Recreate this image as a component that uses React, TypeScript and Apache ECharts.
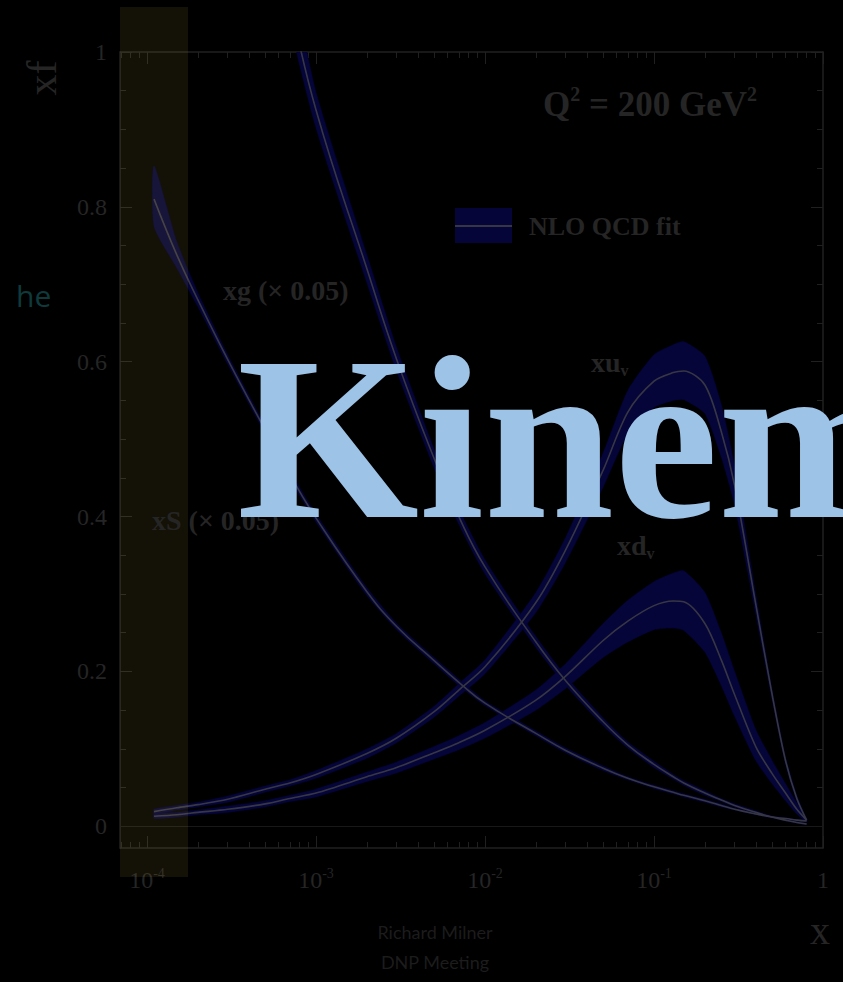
import { useEffect, useRef } from "react";
import * as echarts from "echarts";

// Sampled momentum fractions x (log axis drawn as log10 x)
const X_POINTS = [
  1.1e-4, 1.5e-4, 2e-4, 3e-4, 5e-4, 7e-4, 1e-3, 2e-3, 3e-3, 5e-3, 7e-3, 0.01, 0.02, 0.03,
  0.05, 0.07, 0.1, 0.13, 0.15, 0.2, 0.25, 0.3, 0.4, 0.5, 0.6, 0.7, 0.8,
];

// Sea quarks xS (x 0.05): central value and error band
const XS_CENTER = [0.81, 0.738, 0.68, 0.603, 0.512, 0.454, 0.398, 0.303, 0.258, 0.214, 0.186, 0.159, 0.12, 0.098, 0.075, 0.062, 0.051, 0.044, 0.04, 0.033, 0.027, 0.022, 0.016, 0.012, 0.01, 0.008, 0.007];
const XS_UPPER = [0.853, 0.755, 0.689, 0.609, 0.517, 0.459, 0.403, 0.308, 0.262, 0.218, 0.19, 0.162, 0.123, 0.101, 0.078, 0.064, 0.053, 0.046, 0.042, 0.035, 0.029, 0.023, 0.017, 0.013, 0.011, 0.009, 0.008];
const XS_LOWER = [0.775, 0.721, 0.671, 0.597, 0.507, 0.449, 0.393, 0.298, 0.254, 0.21, 0.182, 0.156, 0.117, 0.095, 0.072, 0.06, 0.049, 0.042, 0.038, 0.031, 0.025, 0.021, 0.015, 0.011, 0.009, 0.007, 0.006];

// Gluon xg (x 0.05): leaves the frame at small x
const XG_CENTER = [null, null, null, null, null, 1.07, 0.925, 0.72, 0.603, 0.475, 0.4, 0.335, 0.238, 0.188, 0.135, 0.105, 0.08, 0.064, 0.056, 0.043, 0.034, 0.027, 0.018, 0.012, 0.008, 0.005, 0.003];
const XG_UPPER = [null, null, null, null, null, 1.1, 0.948, 0.738, 0.618, 0.487, 0.41, 0.344, 0.245, 0.194, 0.14, 0.109, 0.084, 0.067, 0.059, 0.046, 0.036, 0.029, 0.02, 0.013, 0.009, 0.006, 0.004];
const XG_LOWER = [null, null, null, null, null, 1.04, 0.902, 0.702, 0.588, 0.463, 0.39, 0.326, 0.231, 0.182, 0.13, 0.101, 0.076, 0.061, 0.053, 0.04, 0.032, 0.025, 0.016, 0.011, 0.007, 0.004, 0.002];

// Valence up quark xu_v
const XUV_CENTER = [0.019, 0.024, 0.028, 0.035, 0.048, 0.056, 0.067, 0.094, 0.114, 0.148, 0.176, 0.206, 0.289, 0.357, 0.46, 0.535, 0.575, 0.586, 0.588, 0.57, 0.51, 0.44, 0.287, 0.17, 0.085, 0.036, 0.008];
const XUV_UPPER = [0.022, 0.027, 0.031, 0.039, 0.052, 0.06, 0.072, 0.1, 0.12, 0.155, 0.184, 0.215, 0.302, 0.373, 0.482, 0.563, 0.609, 0.622, 0.626, 0.607, 0.545, 0.465, 0.3, 0.177, 0.09, 0.04, 0.009];
const XUV_LOWER = [0.016, 0.021, 0.025, 0.031, 0.044, 0.052, 0.062, 0.088, 0.108, 0.141, 0.168, 0.197, 0.276, 0.341, 0.438, 0.507, 0.541, 0.55, 0.551, 0.533, 0.477, 0.415, 0.274, 0.163, 0.08, 0.032, 0.007];

// Valence down quark xd_v
const XDV_CENTER = [0.013, 0.015, 0.018, 0.022, 0.029, 0.036, 0.043, 0.064, 0.076, 0.095, 0.108, 0.124, 0.163, 0.194, 0.24, 0.265, 0.285, 0.291, 0.29, 0.262, 0.215, 0.17, 0.103, 0.068, 0.043, 0.022, 0.008];
const XDV_UPPER = [0.016, 0.018, 0.021, 0.026, 0.033, 0.04, 0.048, 0.07, 0.083, 0.103, 0.117, 0.134, 0.176, 0.21, 0.262, 0.292, 0.316, 0.327, 0.33, 0.302, 0.25, 0.2, 0.125, 0.085, 0.055, 0.03, 0.01];
const XDV_LOWER = [0.01, 0.012, 0.015, 0.018, 0.025, 0.032, 0.038, 0.058, 0.069, 0.087, 0.099, 0.114, 0.15, 0.178, 0.218, 0.238, 0.254, 0.256, 0.253, 0.225, 0.182, 0.142, 0.085, 0.055, 0.033, 0.016, 0.006];

// Axis ticks
const X_TICK_EXPONENTS = [-4, -3, -2, -1, 0];
const Y_TICK_VALUES = [0, 0.2, 0.4, 0.6, 0.8, 1];
const Y_TICK_LABELS = ["0", "0.2", "0.4", "0.6", "0.8", "1"];

const LOGX_MIN = -4.16;
const LOGX_MAX = 0;
const Y_MIN = -0.028;
const Y_MAX = 1;

const FRAME = "#202020";
const INK = "#252525";
const BAND = "#05053a";
const CURVE = "#373744";
const SERIF = '"Liberation Serif", "Times New Roman", serif';

// minor ticks at 2..9 times each decade, inside the axis range
const X_MINOR: number[] = [];
for (let d = -5; d < 0; d++) {
  for (let m = 2; m <= 9; m++) {
    const v = Math.log10(m * Math.pow(10, d));
    if (v > LOGX_MIN && v < LOGX_MAX) X_MINOR.push(v);
  }
}
const Y_MINOR: number[] = [];
for (let i = 0; i <= 20; i++) Y_MINOR.push(Math.round(i * 5) / 100);

function pairs(values: (number | null)[]): number[][] {
  const out: number[][] = [];
  X_POINTS.forEach((x, i) => {
    const v = values[i];
    if (v !== null && v !== undefined) out.push([Math.log10(x), v]);
  });
  return out;
}

function bandSeries(name: string, upper: (number | null)[], lower: (number | null)[]) {
  const up = pairs(upper);
  const lo = pairs(lower);
  return {
    type: "custom",
    name,
    clip: true,
    silent: true,
    z: 1,
    data: [[LOGX_MIN, 0]],
    renderItem: (_params: any, api: any) => {
      const pts = up.concat(lo.slice().reverse()).map((p) => api.coord(p));
      return {
        type: "polygon",
        shape: { points: pts, smooth: 0.2 },
        style: { fill: BAND, stroke: BAND, lineWidth: 0.5 },
      };
    },
  };
}

function curveSeries(name: string, values: (number | null)[], smooth: number, extra: any = {}) {
  return {
    type: "line",
    name,
    data: pairs(values),
    showSymbol: false,
    smooth,
    clip: true,
    silent: true,
    z: 3,
    lineStyle: { color: CURVE, width: 1.6 },
    itemStyle: { color: CURVE },
    ...extra,
  };
}

const hidden = { show: false };
const xBase = {
  type: "value",
  min: LOGX_MIN,
  max: LOGX_MAX,
  splitLine: hidden,
  axisLine: { show: false, onZero: false },
  axisLabel: hidden,
  axisTick: hidden,
};
const yBase = {
  type: "value",
  min: Y_MIN,
  max: Y_MAX,
  splitLine: hidden,
  axisLine: { show: false, onZero: false },
  axisLabel: hidden,
  axisTick: hidden,
};
const frameLine = { show: true, onZero: false, lineStyle: { color: FRAME, width: 1.5 } };
const tick = (values: number[], length: number) => ({
  show: true,
  inside: true,
  length,
  customValues: values,
  lineStyle: { color: FRAME, width: 1 },
});

const labelRich = {
  b: { fontSize: 28, lineHeight: 32, fontFamily: SERIF, fontWeight: "bold", fill: INK },
  v: { fontSize: 16, lineHeight: 16, fontFamily: SERIF, fontWeight: "bold", fill: INK, verticalAlign: "bottom" },
};

export default function App() {
  const ref = useRef<HTMLDivElement>(null);

  useEffect(() => {
    if (!ref.current) return;
    const chart = echarts.init(ref.current, null, { renderer: "svg" });

    chart.setOption({
      animation: false,
      backgroundColor: "#000000",
      grid: { left: 120, right: 20, top: 52, bottom: 134 },
      xAxis: [
        {
          ...xBase,
          position: "bottom",
          axisLine: frameLine,
          axisTick: tick(X_TICK_EXPONENTS, 12),
          axisLabel: {
            show: true,
            customValues: X_TICK_EXPONENTS,
            margin: 18,
            formatter: (v: number) => (v === 0 ? "{b|1}" : `{b|10}{s|${v}}`),
            rich: {
              b: { fontSize: 24, lineHeight: 28, fontFamily: SERIF, color: INK },
              s: { fontSize: 14, lineHeight: 14, fontFamily: SERIF, color: INK, verticalAlign: "top" },
            },
          },
        },
        { ...xBase, position: "bottom", axisTick: tick(X_MINOR, 6) },
        { ...xBase, position: "top", axisLine: frameLine, axisTick: tick(X_TICK_EXPONENTS, 12) },
        { ...xBase, position: "top", axisTick: tick(X_MINOR, 6) },
      ],
      yAxis: [
        {
          ...yBase,
          position: "left",
          axisLine: frameLine,
          axisTick: tick(Y_TICK_VALUES, 12),
          axisLabel: {
            show: true,
            customValues: Y_TICK_VALUES,
            margin: 13,
            fontSize: 24,
            fontFamily: SERIF,
            color: INK,
            formatter: (v: number) => {
              const i = Y_TICK_VALUES.findIndex((t) => Math.abs(t - v) < 1e-9);
              return i >= 0 ? Y_TICK_LABELS[i] : String(v);
            },
          },
        },
        { ...yBase, position: "left", axisTick: tick(Y_MINOR, 6) },
        { ...yBase, position: "right", axisLine: frameLine, axisTick: tick(Y_TICK_VALUES, 12) },
        { ...yBase, position: "right", axisTick: tick(Y_MINOR, 6) },
      ],
      series: [
        bandSeries("xS band", XS_UPPER, XS_LOWER),
        bandSeries("xg band", XG_UPPER, XG_LOWER),
        bandSeries("xuv band", XUV_UPPER, XUV_LOWER),
        bandSeries("xdv band", XDV_UPPER, XDV_LOWER),
        curveSeries("xS", XS_CENTER, 0.45, {
          markLine: {
            silent: true,
            symbol: "none",
            label: { show: false },
            lineStyle: { color: "#181818", type: "solid", width: 1 },
            data: [{ yAxis: 0 }],
          },
        }),
        curveSeries("xg", XG_CENTER, 0.45),
        curveSeries("xuv", XUV_CENTER, 0.3),
        curveSeries("xdv", XDV_CENTER, 0.3),
      ],
      graphic: [
        // highlighted low-x strip
        {
          type: "rect",
          z: 50,
          silent: true,
          shape: { x: 120, y: 7, width: 68, height: 870 },
          style: { fill: "rgba(220,190,80,0.09)" },
        },
        // y-axis title
        {
          type: "text",
          z: 60,
          x: 42,
          y: 78,
          rotation: Math.PI / 2,
          style: { text: "xf", font: `42px ${SERIF}`, fill: INK, align: "center", verticalAlign: "middle" },
        },
        // x-axis title
        {
          type: "text",
          z: 60,
          x: 820,
          y: 930,
          style: { text: "x", font: `40px ${SERIF}`, fill: INK, align: "center", verticalAlign: "middle" },
        },
        // scale label
        {
          type: "text",
          z: 60,
          x: 543,
          y: 104,
          style: {
            text: "{q|Q}{s|2}{q| = 200 GeV}{s|2}",
            verticalAlign: "middle",
            rich: {
              q: { fontSize: 35, lineHeight: 40, fontFamily: SERIF, fontWeight: "bold", fill: INK },
              s: { fontSize: 20, lineHeight: 20, fontFamily: SERIF, fontWeight: "bold", fill: INK, verticalAlign: "top" },
            },
          },
        },
        // legend: band with central line
        {
          type: "rect",
          z: 60,
          shape: { x: 455, y: 208, width: 57, height: 35 },
          style: { fill: BAND },
        },
        {
          type: "line",
          z: 61,
          shape: { x1: 455, y1: 226, x2: 512, y2: 226 },
          style: { stroke: CURVE, lineWidth: 2 },
        },
        {
          type: "text",
          z: 60,
          x: 529,
          y: 226,
          style: { text: "NLO QCD fit", font: `bold 26px ${SERIF}`, fill: INK, verticalAlign: "middle" },
        },
        // curve labels
        {
          type: "text",
          z: 60,
          x: 223,
          y: 290,
          style: { text: "xg (× 0.05)", font: `bold 28px ${SERIF}`, fill: INK, verticalAlign: "middle" },
        },
        {
          type: "text",
          z: 60,
          x: 152,
          y: 520,
          style: { text: "xS (× 0.05)", font: `bold 28px ${SERIF}`, fill: INK, verticalAlign: "middle" },
        },
        {
          type: "text",
          z: 60,
          x: 591,
          y: 362,
          style: { text: "{b|xu}{v|v}", verticalAlign: "middle", rich: labelRich },
        },
        {
          type: "text",
          z: 60,
          x: 617,
          y: 545,
          style: { text: "{b|xd}{v|v}", verticalAlign: "middle", rich: labelRich },
        },
        // slide texts
        {
          type: "text",
          z: 40,
          x: 16,
          y: 295,
          style: { text: "he", font: '30px "Open Sans", sans-serif', fill: "#0e3a3c", verticalAlign: "middle" },
        },
        {
          type: "text",
          z: 60,
          x: 435,
          y: 932,
          style: { text: "Richard Milner", font: '18px Lato, sans-serif', fill: "#1c1c1c", align: "center", verticalAlign: "middle" },
        },
        {
          type: "text",
          z: 60,
          x: 435,
          y: 962,
          style: { text: "DNP Meeting", font: '18px Lato, sans-serif', fill: "#1c1c1c", align: "center", verticalAlign: "middle" },
        },
        {
          type: "text",
          z: 100,
          x: 237,
          y: 438,
          style: { text: "Kinematics", font: `bold 234px ${SERIF}`, fill: "#9dc3e6", verticalAlign: "middle" },
        },
      ],
    });

    return () => chart.dispose();
  }, []);

  return (
    <div
      ref={ref}
      style={{ position: "absolute", left: 0, top: 0, width: 843, height: 982, overflow: "hidden", background: "#000" }}
    />
  );
}
